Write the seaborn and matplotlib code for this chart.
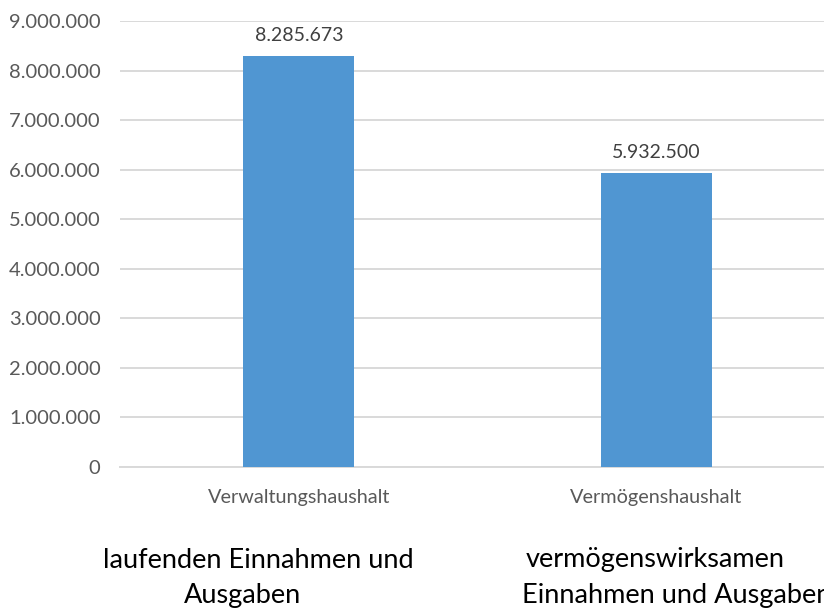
import matplotlib
matplotlib.use("Agg")
import matplotlib.pyplot as plt
import seaborn as sns
import pandas as pd
from matplotlib.ticker import FuncFormatter

categories = ["Verwaltungshaushalt", "Vermögenshaushalt"]
values = [8285673, 5932500]
yticks = [0, 1000000, 2000000, 3000000, 4000000, 5000000, 6000000, 7000000, 8000000, 9000000]
notes_line1 = ["laufenden Einnahmen und", "vermögenswirksamen"]
notes_line2 = ["Ausgaben", "Einnahmen und Ausgaben"]

sns.set_theme(style="white")
plt.rcParams['font.family'] = ['Lato', 'DejaVu Sans']

def de(v):
    return f"{int(round(v)):,}".replace(",", ".")

df = pd.DataFrame({"cat": categories, "val": values})

fig = plt.figure(figsize=(8.24, 6.09), dpi=100)
ax = fig.add_axes([120/824, 142/609, 715/824, 446/609])
sns.barplot(data=df, x="cat", y="val", color="#5096D2", saturation=1, width=0.31, ax=ax)
for p in ax.patches:
    p.set_edgecolor("none")
    p.set_zorder(3)

ax.set_xlim(-0.5, 1.5)
ax.set_ylim(0, 9000000)
ax.set_yticks(yticks)
ax.yaxis.set_major_formatter(FuncFormatter(lambda v, pos: de(v)))
ax.grid(axis="y", color="#D9D9D9", linewidth=1.4, zorder=0)
ax.set_axisbelow(True)
for s in ["top", "right", "left"]:
    ax.spines[s].set_visible(False)
ax.spines["bottom"].set_color("#D9D9D9")
ax.spines["bottom"].set_linewidth(1.4)
ax.set_xlabel("")
ax.set_ylabel("")
ax.tick_params(axis="y", length=0, pad=14, labelsize=14.5, labelcolor="#595959")
ax.tick_params(axis="x", length=0, pad=16, labelsize=14.3, labelcolor="#595959")

for i, v in enumerate(values):
    ax.annotate(de(v), (i, v), xytext=(0, 9), textcoords="offset points",
                ha="center", va="bottom", fontsize=14, color="#404040")

# explanatory notes below the chart
pos1 = [258, 655]
pos2 = [243, 677]
for t, x in zip(notes_line1, pos1):
    fig.text(x/824, 1 - 560/609, t, ha="center", va="center", fontsize=19.5, color="#000000")
for t, x in zip(notes_line2, pos2):
    fig.text(x/824, 1 - 596/609, t, ha="center", va="center", fontsize=19.5, color="#000000")

fig.savefig("out.png", dpi=100)
